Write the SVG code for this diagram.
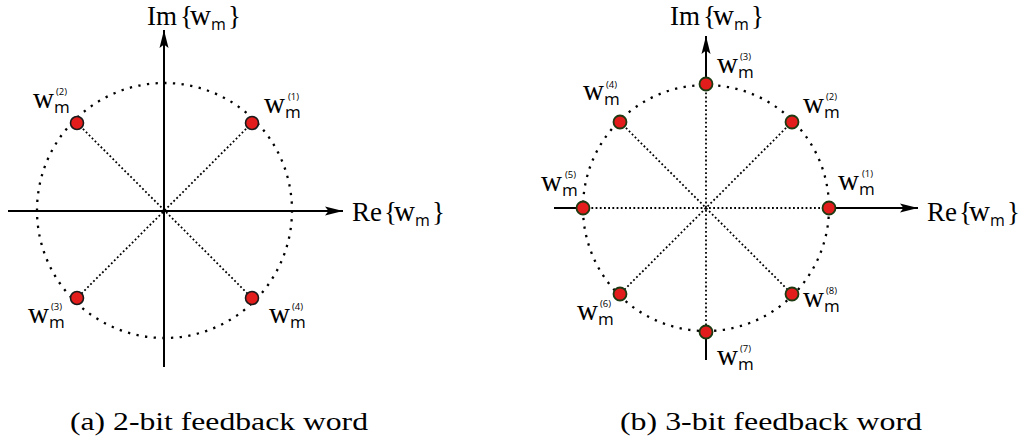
<svg xmlns="http://www.w3.org/2000/svg" width="1028" height="446" viewBox="0 0 1028 446">
<style>
.axis{stroke:#000;stroke-width:2;fill:none}
.circ{stroke:#000;stroke-width:2.3;fill:none;stroke-dasharray:2.3 6.4}
.ray{stroke:#000;stroke-width:1.8;fill:none;stroke-dasharray:1.8 2.4}
.ptL{fill:#e31c1c;stroke:#1a1a1a;stroke-width:1.6}
.ptR{fill:#e31c1c;stroke:#1e3a12;stroke-width:1.8}
.w{font-family:"Liberation Serif",serif;font-size:29px;fill:#000}
.sub{font-family:"Open Sans",sans-serif;font-size:17px}
.sup{font-family:"Open Sans",sans-serif;font-size:9.5px}
.ax{font-family:"Liberation Serif",serif;font-size:27px;fill:#000}
.axw{font-size:29px}
.axs{font-family:"Open Sans",sans-serif;font-size:16px}
.cap{font-family:"Liberation Serif",serif;font-size:26px;fill:#000}
</style>
<defs>
<marker id="arr" markerUnits="userSpaceOnUse" markerWidth="20" markerHeight="12" viewBox="0 0 20 12" refX="18" refY="6" orient="auto">
<path d="M0,1.5 L18,6 L0,10.5 L3.5,6 z" fill="#000"/>
</marker>
</defs>
<rect width="1028" height="446" fill="#fff"/>

<!-- (a) left diagram -->
<g id="left-frame">
<circle class="circ" cx="164.5" cy="210.5" r="127.5"/>
<line class="axis" x1="164" y1="367" x2="164" y2="30" marker-end="url(#arr)"/>
<line class="axis" x1="8" y1="211" x2="343" y2="211" marker-end="url(#arr)"/>
<text class="ax" x="147" y="25">Im<tspan x="180">{</tspan><tspan class="axw" x="190">w</tspan><tspan class="axs" x="211" y="30">m</tspan><tspan x="228" y="25">}</tspan></text>
<text class="ax" x="352" y="221">Re<tspan x="384">{</tspan><tspan class="axw" x="394">w</tspan><tspan class="axs" x="415" y="226">m</tspan><tspan x="432" y="221">}</tspan></text>
</g>
<g id="connectors-left">
<line class="ray" x1="77" y1="123" x2="252" y2="298"/>
<line class="ray" x1="252" y1="123" x2="77" y2="298"/>
</g>
<g id="a-w1">
<circle class="ptL" cx="252" cy="123" r="6.5"/>
<text class="w" x="264" y="113">w<tspan class="sub" x="285" y="118">m</tspan><tspan class="sup" x="288" y="100">(1)</tspan></text>
</g>
<g id="a-w2">
<circle class="ptL" cx="77" cy="123" r="6.5"/>
<text class="w" x="33" y="108">w<tspan class="sub" x="54" y="113">m</tspan><tspan class="sup" x="56" y="95">(2)</tspan></text>
</g>
<g id="a-w3">
<circle class="ptL" cx="77" cy="298" r="6.5"/>
<text class="w" x="28" y="323">w<tspan class="sub" x="49" y="328">m</tspan><tspan class="sup" x="51" y="310">(3)</tspan></text>
</g>
<g id="a-w4">
<circle class="ptL" cx="252" cy="298" r="6.5"/>
<text class="w" x="269" y="323">w<tspan class="sub" x="290" y="328">m</tspan><tspan class="sup" x="292" y="310">(4)</tspan></text>
</g>

<!-- (b) right diagram -->
<g id="right-frame">
<circle class="circ" cx="706" cy="208" r="123"/>
<line class="axis" x1="706" y1="77" x2="706" y2="36" marker-end="url(#arr)"/>
<line class="axis" x1="706" y1="339" x2="706" y2="360"/>
<line class="axis" x1="554" y1="208" x2="576" y2="208"/>
<line class="axis" x1="836" y1="208" x2="918" y2="208" marker-end="url(#arr)"/>
<text class="ax" x="670" y="25">Im<tspan x="703">{</tspan><tspan class="axw" x="713">w</tspan><tspan class="axs" x="734" y="30">m</tspan><tspan x="751" y="25">}</tspan></text>
<text class="ax" x="927" y="221">Re<tspan x="959">{</tspan><tspan class="axw" x="969">w</tspan><tspan class="axs" x="990" y="226">m</tspan><tspan x="1007" y="221">}</tspan></text>
</g>
<g id="connectors-right">
<line class="ray" x1="583" y1="208" x2="829" y2="208"/>
<line class="ray" x1="706" y1="84" x2="706" y2="332"/>
<line class="ray" x1="620" y1="122" x2="792" y2="294"/>
<line class="ray" x1="792" y1="122" x2="620" y2="294"/>
</g>
<g id="b-w1">
<circle class="ptR" cx="829" cy="208" r="6.5"/>
<text class="w" x="838" y="190">w<tspan class="sub" x="859" y="195">m</tspan><tspan class="sup" x="862" y="177">(1)</tspan></text>
</g>
<g id="b-w2">
<circle class="ptR" cx="792" cy="122" r="6.5"/>
<text class="w" x="803" y="113">w<tspan class="sub" x="824" y="118">m</tspan><tspan class="sup" x="826" y="100">(2)</tspan></text>
</g>
<g id="b-w3">
<circle class="ptR" cx="706" cy="84" r="6.5"/>
<text class="w" x="717" y="73">w<tspan class="sub" x="738" y="78">m</tspan><tspan class="sup" x="740" y="60">(3)</tspan></text>
</g>
<g id="b-w4">
<circle class="ptR" cx="620" cy="122" r="6.5"/>
<text class="w" x="583" y="100">w<tspan class="sub" x="604" y="105">m</tspan><tspan class="sup" x="606" y="88">(4)</tspan></text>
</g>
<g id="b-w5">
<circle class="ptR" cx="583" cy="208" r="6.5"/>
<text class="w" x="541" y="191">w<tspan class="sub" x="562" y="196">m</tspan><tspan class="sup" x="565" y="178">(5)</tspan></text>
</g>
<g id="b-w6">
<circle class="ptR" cx="620" cy="294" r="6.5"/>
<text class="w" x="577" y="320">w<tspan class="sub" x="598" y="325">m</tspan><tspan class="sup" x="600" y="307">(6)</tspan></text>
</g>
<g id="b-w7">
<circle class="ptR" cx="706" cy="332" r="6.5"/>
<text class="w" x="717" y="365">w<tspan class="sub" x="738" y="370">m</tspan><tspan class="sup" x="740" y="352">(7)</tspan></text>
</g>
<g id="b-w8">
<circle class="ptR" cx="792" cy="294" r="6.5"/>
<text class="w" x="803" y="307">w<tspan class="sub" x="824" y="312">m</tspan><tspan class="sup" x="826" y="294">(8)</tspan></text>
</g>

<g id="captions">
<text class="cap" x="70" y="430" textLength="298" lengthAdjust="spacingAndGlyphs">(a) 2-bit feedback word</text>
<text class="cap" x="620" y="430" textLength="302" lengthAdjust="spacingAndGlyphs">(b) 3-bit feedback word</text>
</g>
</svg>
